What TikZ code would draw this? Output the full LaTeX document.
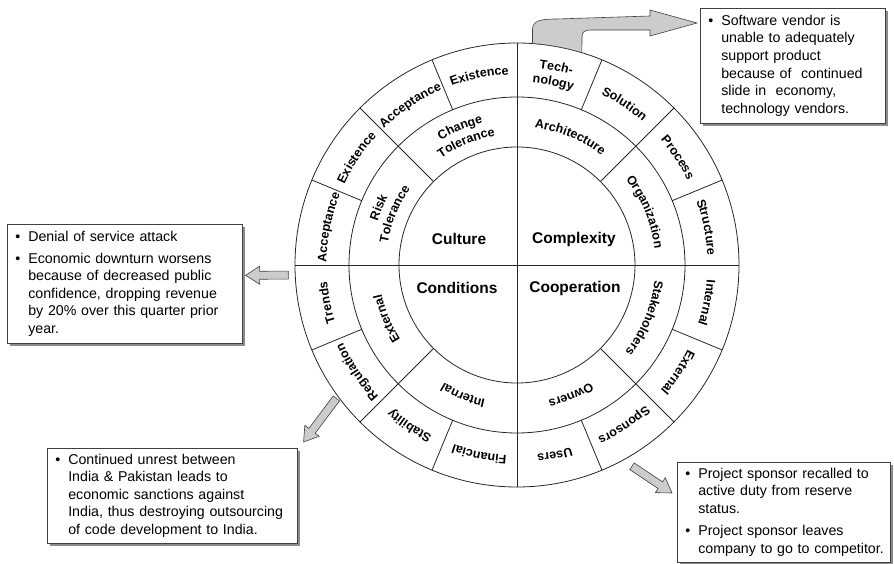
\documentclass[tikz,border=0pt]{standalone}
\usepackage{fontspec}
\setmainfont{Liberation Sans}
\usetikzlibrary{calc,decorations.text,shadows}
\setlength\parindent{0pt}

\newcommand\ringfont{\fontsize{12.5}{14}\selectfont\bfseries}
\newcommand\notefont{\fontsize{14.2}{17.6}\selectfont}

\tikzset{
  wheel/.style = {circle, draw=black!85, line width=0.8pt, inner sep=0pt,
    outer sep=0pt},% ring of the wheel
  spoke/.style = {draw=black!85, line width=0.8pt},% divider line
  core_lbl/.style = {font=\fontsize{15.5}{18}\selectfont\bfseries},% inner quadrant
  note_box/.style = {draw=black!75, fill=white, line width=0.6pt,
    anchor=north west, inner xsep=8pt, inner ysep=0pt, align=left,
    font=\notefont, drop shadow={shadow xshift=3pt, shadow yshift=-3pt,
    fill=black!45, opacity=1}},% risk box
  blk_arr/.style = {fill=black!20, draw=black!75, line width=0.6pt}% block arrow
}

% text bent along a ring, centred on angle #1, baseline radius #2
\newcommand\ringlabel[3]{%
  \path [decorate, decoration={text along path, text align=center,
    text={|\ringfont|#3}}] ({#1+40}:#2) arc [start angle={#1+40},
    end angle={#1-40}, radius=#2];}

% block arrow from tail #1 to tip #2
\newcommand\blockarrow[2]{%
  \coordinate (neck) at ($(#2)!14pt!(#1)$);
  \filldraw [blk_arr] ($(#1)!4pt!90:(#2)$) -- ($(neck)!4pt!90:(#2)$)
    -- ($(neck)!9pt!90:(#2)$) -- (#2) -- ($(neck)!9pt!-90:(#2)$)
    -- ($(neck)!4pt!-90:(#2)$) -- ($(#1)!4pt!-90:(#2)$) -- cycle;}

\begin{document}
\begin{tikzpicture}[x=1pt, y=1pt]
\useasboundingbox (-517,-299) rectangle (377,265);

% wheel
\node [wheel, minimum size=444pt] (rim) at (0,0) {};
\node [wheel, minimum size=336pt] (mid) at (0,0) {};
\node [wheel, minimum size=236pt] (hub) at (0,0) {};
\draw [spoke] (rim.north) -- (rim.south) (rim.west) -- (rim.east);
\foreach \a in {45,135,225,315}
  \draw [spoke] (\a:118) -- (\a:222);
\foreach \a in {22.5,67.5,...,337.5}
  \draw [spoke] (\a:168) -- (\a:222);

\node [core_lbl] (culture) at (-58,26) {Culture};
\node [core_lbl] (complexity) at (57,26) {Complexity};
\node [core_lbl] (conditions) at (-60,-23) {Conditions};
\node [core_lbl] (cooperation) at (58,-23) {Cooperation};

% middle ring
\ringlabel{67.5}{138.5}{Architecture}
\ringlabel{22.5}{138.5}{Organization}
\ringlabel{337.5}{138.5}{Stakeholders}
\ringlabel{292.5}{138.5}{Owners}
\ringlabel{247.5}{138.5}{Internal}
\ringlabel{202.5}{138.5}{External}
\ringlabel{157.5}{146}{Risk}
\ringlabel{157.5}{131}{Tolerance}
\ringlabel{112.5}{146}{Change}
\ringlabel{112.5}{131}{Tolerance}

% outer ring
\ringlabel{11.25}{190.5}{Structure}
\ringlabel{33.75}{190.5}{Process}
\ringlabel{56.25}{190.5}{Solution}
\ringlabel{78.75}{198}{Tech-}
\ringlabel{78.75}{183}{nology}
\ringlabel{101.25}{190.5}{Existence}
\ringlabel{123.75}{190.5}{Acceptance}
\ringlabel{146.25}{190.5}{Existence}
\ringlabel{168.75}{190.5}{Acceptance}
\ringlabel{191.25}{190.5}{Trends}
\ringlabel{213.75}{190.5}{Regulation}
\ringlabel{236.25}{190.5}{Stability}
\ringlabel{258.75}{190.5}{Financial}
\ringlabel{281.25}{190.5}{Users}
\ringlabel{303.75}{190.5}{Sponsors}
\ringlabel{326.25}{190.5}{External}
\ringlabel{348.75}{190.5}{Internal}

% risk boxes
\node [note_box, text width=219pt, minimum height=119pt] (lbox) at (-510,41) {%
  \begin{tabular}{@{}p{13pt}@{}l@{}}
  \textbullet & Denial of service attack\\[4.5pt]
  \textbullet & Economic downturn worsens\\
   & because of decreased public\\
   & confidence, dropping revenue\\
   & by 20\% over this quarter prior\\
   & year.
  \end{tabular}};
\node [note_box, text width=169pt, minimum height=115pt] (tbox) at (183,257) {%
  \begin{tabular}{@{}p{13pt}@{}l@{}}
  \textbullet & Software vendor is\\
   & unable to adequately\\
   & support product\\
   & because of\ \ continued\\
   & slide in\ \ economy,\\
   & technology vendors.
  \end{tabular}};
\node [note_box, text width=234pt, minimum height=95pt] (blbox) at (-470,-183) {%
  \begin{tabular}{@{}p{13pt}@{}l@{}}
  \textbullet & Continued unrest between\\
   & India \& Pakistan leads to\\
   & economic sanctions against\\
   & India, thus destroying outsourcing\\
   & of code development to India.
  \end{tabular}};
\node [note_box, text width=197pt, minimum height=100pt] (brbox) at (160,-197) {%
  \begin{tabular}{@{}p{13pt}@{}l@{}}
  \textbullet & Project sponsor recalled to\\
   & active duty from reserve\\
   & status.\\[4.5pt]
  \textbullet & Project sponsor leaves\\
   & company to go to competitor.
  \end{tabular}};

% arrows from the wheel to the boxes
\coordinate (trends_o) at ($(rim.183)+(-7,1.5)$);
\coordinate (lbox_in) at ($(lbox.east)+(3,8.5)$);
\blockarrow{trends_o}{lbox_in}
\coordinate (reg_o) at ($(rim.216)+(-1,-3)$);
\coordinate (blbox_in) at ($(blbox.north east)+(6,6)$);
\blockarrow{reg_o}{blbox_in}
\coordinate (spons_o) at ($(rim.300)+(4,-9)$);
\coordinate (brbox_in) at ($(brbox.north west)+(-5,-31)$);
\blockarrow{spons_o}{brbox_in}
\coordinate (tbox_in) at ($(tbox.north west)+(-3,-15)$);
\filldraw [blk_arr] (rim.86) -- ++(0,14) .. controls +(0,9) and (24,246) .. (40,246)
  -- (133,249) -- (133,255) -- (tbox_in) -- (133,229) -- (133,235) -- (75,235)
  .. controls (67,235) and (65,233) .. (65,228) -- (rim.73)
  arc [start angle=73, end angle=86, radius=222] -- cycle;
\end{tikzpicture}
\end{document}
